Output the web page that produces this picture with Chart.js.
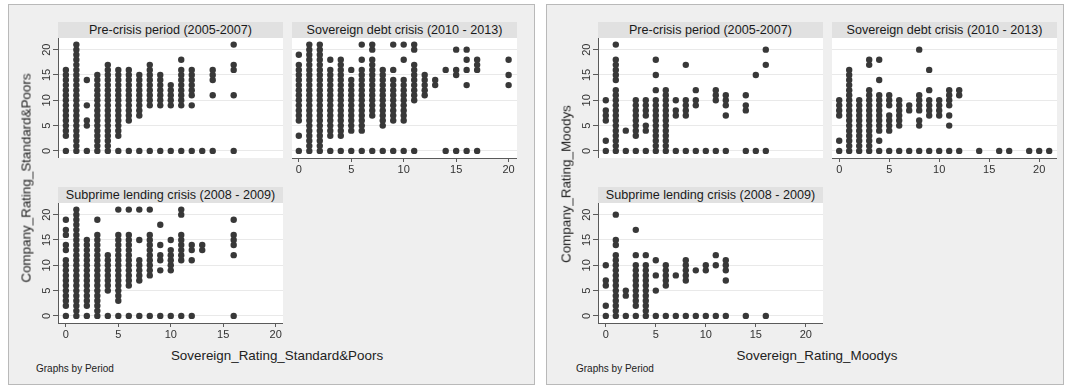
<!DOCTYPE html>
<html>
<head>
<meta charset="utf-8">
<script src="https://cdn.jsdelivr.net/npm/chart.js@4.4.1/dist/chart.umd.min.js"></script>
<style>
body { margin: 0; width: 1066px; height: 388px; background: #fff; position: relative; overflow: hidden;
       font-family: "Liberation Sans", Arial, sans-serif; }
.panel { position: absolute; top: 4px; height: 381px; background: #efefef; border: 1px solid #b9b9b9; box-sizing: border-box; }
.area { position: absolute; background: #fff; }
.strip { position: absolute; height: 16px; line-height: 16px; background: #e1e1e1; color: #1a1a1a;
         font-size: 12.6px; text-align: center; white-space: nowrap; }
canvas { position: absolute; }
.xtitle { position: absolute; font-size: 13.4px; color: #222; white-space: nowrap; transform: translate(-50%, -50%); }
.ytitle { position: absolute; font-size: 13.4px; color: #222; white-space: nowrap; transform: translate(-50%, -50%) rotate(-90deg); }
.note { position: absolute; font-size: 10px; color: #222; white-space: nowrap; }
</style>
</head>
<body>

<div class="panel" style="left:8px;width:527px"></div>
<div class="panel" style="left:546px;width:518px"></div>

<script>
// ticks and panel titles
const xTicks = [0, 5, 10, 15, 20];
const yTicks = [0, 5, 10, 15, 20];
const periods = ['Pre-crisis period (2005-2007)', 'Sovereign debt crisis (2010 - 2013)', 'Subprime lending crisis (2008 - 2009)'];

// [sovereign rating, company ratings seen at that sovereign rating]

// Standard & Poors
const spPre = [
    [0, [0, 3, 4, 5, 6, 7, 8, 9, 10, 11, 12, 13, 14, 15, 16]],
    [1, [0, 1, 2, 3, 4, 5, 6, 7, 8, 9, 10, 11, 12, 13, 14, 15, 16, 17, 18, 19, 20, 21]],
    [2, [0, 5, 6, 9, 14]],
    [3, [0, 1, 2, 3, 4, 5, 6, 7, 8, 9, 10, 11, 12, 13, 14, 15]],
    [4, [0, 1, 2, 3, 4, 5, 6, 7, 8, 9, 10, 11, 12, 13, 14, 15, 16, 17]],
    [5, [0, 3, 4, 5, 6, 7, 8, 9, 10, 11, 12, 13, 14, 15, 16]],
    [6, [0, 6, 7, 8, 9, 10, 11, 12, 13, 14, 15, 16]],
    [7, [0, 7, 8, 9, 10, 11, 12, 13, 14, 15]],
    [8, [0, 9, 10, 11, 12, 13, 14, 15, 16, 17]],
    [9, [0, 9, 10, 11, 12, 13, 14, 15]],
    [10, [0, 9, 10, 11, 12, 13]],
    [11, [0, 9, 10, 11, 12, 13, 14, 15, 16, 18]],
    [12, [0, 9, 11, 12, 13, 14, 15, 16]],
    [13, [0]],
    [14, [0, 11, 14, 15, 16]],
    [16, [0, 11, 16, 17, 21]]
];

const spDebt = [
    [0, [0, 3, 6, 7, 8, 9, 10, 11, 12, 13, 14, 15, 16, 17, 19]],
    [1, [0, 1, 2, 3, 4, 5, 6, 7, 8, 9, 10, 11, 12, 13, 14, 15, 16, 17, 18, 19, 20, 21]],
    [2, [0, 1, 2, 3, 4, 5, 6, 7, 8, 9, 10, 11, 12, 13, 14, 15, 16, 17, 18, 19, 20, 21]],
    [3, [0, 3, 4, 5, 6, 7, 8, 9, 10, 11, 12, 13, 14, 15, 16, 18]],
    [4, [0, 3, 4, 5, 6, 7, 8, 9, 10, 11, 12, 13, 14, 15, 16, 17, 18]],
    [5, [0, 4, 5, 6, 7, 8, 9, 10, 11, 12, 13, 14, 16]],
    [6, [0, 4, 5, 6, 7, 8, 9, 10, 11, 12, 13, 14, 15, 16, 18, 21]],
    [7, [0, 7, 8, 9, 10, 11, 12, 13, 14, 15, 16, 17, 18, 20, 21]],
    [8, [0, 5, 6, 7, 8, 9, 10, 11, 12, 13, 14, 15, 16]],
    [9, [0, 6, 7, 8, 9, 10, 11, 12, 13, 14, 16, 21]],
    [10, [0, 6, 7, 8, 9, 10, 11, 12, 13, 14, 18, 21]],
    [11, [0, 10, 11, 12, 13, 14, 15, 16, 17, 20, 21]],
    [12, [11, 12, 13, 14, 15]],
    [13, [13, 14]],
    [14, [0, 16]],
    [15, [0, 15, 16, 20]],
    [16, [0, 13, 16, 18, 20]],
    [17, [0, 16, 17, 18]],
    [20, [13, 15, 18]]
];

const spSub = [
    [0, [0, 2, 3, 4, 5, 6, 7, 8, 9, 10, 11, 13, 14, 16, 17, 19]],
    [1, [0, 1, 2, 3, 4, 5, 6, 7, 8, 9, 10, 11, 12, 13, 14, 15, 16, 17, 18, 19, 20, 21]],
    [2, [0, 2, 3, 4, 5, 6, 7, 8, 9, 10, 11, 12, 13, 14, 15]],
    [3, [0, 1, 2, 3, 4, 5, 6, 7, 8, 9, 10, 11, 12, 13, 14, 15, 16, 19]],
    [4, [0, 5, 6, 7, 8, 9, 10, 11, 12]],
    [5, [0, 3, 4, 5, 6, 7, 8, 9, 10, 11, 12, 13, 14, 15, 16, 21]],
    [6, [0, 6, 7, 8, 9, 10, 11, 12, 13, 14, 15, 16, 21]],
    [7, [0, 7, 8, 9, 10, 11, 15, 21]],
    [8, [0, 8, 9, 10, 11, 12, 13, 14, 15, 16, 21]],
    [9, [0, 9, 11, 12, 14, 18]],
    [10, [0, 9, 10, 11, 12, 13, 15]],
    [11, [0, 11, 12, 13, 14, 15, 16, 20, 21]],
    [12, [0, 11, 13, 14]],
    [13, [13, 14]],
    [16, [0, 12, 14, 15, 16, 19]]
];

// Moodys
const moPre = [
    [0, [0, 2, 6, 7, 8, 10]],
    [1, [0, 1, 2, 3, 4, 5, 6, 7, 8, 9, 10, 11, 12, 14, 15, 16, 17, 18, 21]],
    [2, [0, 4]],
    [3, [0, 3, 4, 5, 6, 7, 8, 9, 10]],
    [4, [0, 4, 5, 7, 8, 9, 10]],
    [5, [0, 1, 2, 3, 4, 5, 6, 7, 8, 9, 10, 12, 15, 18]],
    [6, [0, 1, 2, 3, 4, 5, 6, 7, 8, 9, 10, 11, 12]],
    [7, [0, 7, 8, 10]],
    [8, [0, 7, 8, 9, 10, 17]],
    [9, [0, 9, 10, 12]],
    [10, [0]],
    [11, [0, 10, 11, 12]],
    [12, [0, 7, 9, 10, 11]],
    [14, [0, 8, 9, 11]],
    [15, [0, 15]],
    [16, [0, 17, 20]]
];

const moDebt = [
    [0, [0, 2, 7, 8, 9, 10]],
    [1, [0, 1, 2, 3, 4, 5, 6, 7, 8, 9, 10, 11, 12, 13, 14, 15, 16]],
    [2, [0, 1, 2, 3, 4, 5, 6, 7, 8, 9, 10]],
    [3, [0, 1, 2, 3, 4, 5, 6, 7, 8, 9, 10, 11, 12, 17, 18]],
    [4, [0, 2, 4, 5, 6, 7, 8, 9, 10, 11, 14, 18]],
    [5, [0, 4, 5, 6, 7, 9, 10, 11]],
    [6, [0, 5, 6, 7, 8, 9, 10]],
    [7, [0, 8, 9]],
    [8, [0, 5, 6, 8, 9, 10, 11, 20]],
    [9, [0, 7, 8, 9, 10, 12, 16]],
    [10, [0, 7, 8, 9, 10]],
    [11, [0, 5, 7, 9, 10, 11, 12]],
    [12, [0, 11, 12]],
    [14, [0]],
    [16, [0]],
    [17, [0]],
    [19, [0]],
    [20, [0]],
    [21, [0]]
];

const moSub = [
    [0, [0, 2, 6, 7, 10]],
    [1, [0, 1, 2, 3, 4, 5, 6, 7, 8, 9, 10, 11, 12, 14, 15, 20]],
    [2, [0, 4, 5]],
    [3, [0, 2, 3, 4, 5, 6, 7, 8, 9, 10, 12, 17]],
    [4, [0, 1, 2, 3, 4, 5, 6, 7, 8, 9, 10, 12]],
    [5, [0, 5, 8, 11]],
    [6, [0, 6, 7, 8, 9, 10]],
    [7, [0, 8]],
    [8, [0, 7, 8, 9, 10, 11]],
    [9, [0, 9]],
    [10, [0, 9, 10]],
    [11, [0, 10, 12]],
    [12, [0, 7, 9, 10, 11]],
    [14, [0]],
    [16, [0]]
];

const FONT = '"Liberation Sans", Arial, sans-serif';
const DOT = '#383838';
const AXIS = '#5a5a5a';
const GRID = '#e9e9e9';
const TICK_TEXT = '#333';

const PW = 225, PH = 120;      // plot region size
const AXIS_W = 30, AXIS_H = 22; // room for y / x axis
const Y_MIN = -1.4, Y_MAX = 22.3;

// where each small graph sits
const plots = [
    { cols: spPre,  title: periods[0], L: 58,  T: 38,  xAxis: false, yAxis: true,  xMin: -0.75, xMax: 20.7 },
    { cols: spDebt, title: periods[1], L: 292, T: 38,  xAxis: true,  yAxis: false, xMin: -0.65, xMax: 20.8 },
    { cols: spSub,  title: periods[2], L: 58,  T: 203, xAxis: true,  yAxis: true,  xMin: -0.75, xMax: 20.7 },
    { cols: moPre,  title: periods[0], L: 598, T: 38,  xAxis: false, yAxis: true,  xMin: -0.78, xMax: 21.72 },
    { cols: moDebt, title: periods[1], L: 832, T: 38,  xAxis: true,  yAxis: false, xMin: -0.72, xMax: 21.78 },
    { cols: moSub,  title: periods[2], L: 598, T: 203, xAxis: true,  yAxis: true,  xMin: -0.78, xMax: 21.72 }
];

function toPoints(cols) {
    const pts = [];
    cols.forEach(([x, ys]) => ys.forEach(y => pts.push({ x: x, y: y })));
    return pts;
}

// stata style rotated y labels
const yLabels = {
    id: 'yLabels',
    afterDraw(chart, args, opts) {
        if (!opts.show) return;
        const s = chart.scales.y;
        const c = chart.ctx;
        c.save();
        c.font = '11px ' + FONT;
        c.fillStyle = TICK_TEXT;
        c.textAlign = 'center';
        c.textBaseline = 'middle';
        yTicks.forEach(v => {
            c.save();
            c.translate(s.right - 11, s.getPixelForValue(v));
            c.rotate(-Math.PI / 2);
            c.fillText(String(v), 0, 0);
            c.restore();
        });
        c.restore();
    }
};

function addDiv(cls, text, style) {
    const d = document.createElement('div');
    d.className = cls;
    d.textContent = text;
    Object.assign(d.style, style);
    document.body.appendChild(d);
    return d;
}

plots.forEach(p => {

    addDiv('area', '', { left: p.L + 'px', top: p.T + 'px', width: PW + 'px', height: PH + 'px' });
    addDiv('strip', p.title, { left: p.L + 'px', top: (p.T - 16) + 'px', width: PW + 'px' });

    const cv = document.createElement('canvas');
    const w = PW + AXIS_W;
    const h = PH + (p.xAxis ? AXIS_H : 0);
    cv.width = w; cv.height = h;
    cv.style.width = w + 'px'; cv.style.height = h + 'px';
    cv.style.left = (p.L - AXIS_W) + 'px';
    cv.style.top = p.T + 'px';
    document.body.appendChild(cv);

    new Chart(cv, {
        type: 'scatter',
        data: {
            datasets: [{
                data: toPoints(p.cols),
                backgroundColor: DOT,
                borderWidth: 0,
                pointRadius: 3.2,
                pointHoverRadius: 3.2
            }]
        },
        options: {
            responsive: false,
            animation: false,
            events: [],
            layout: { padding: 0, autoPadding: false },
            plugins: {
                legend: { display: false },
                tooltip: { enabled: false },
                yLabels: { show: p.yAxis }
            },
            scales: {
                x: {
                    type: 'linear',
                    display: p.xAxis,
                    min: p.xMin,
                    max: p.xMax,
                    afterBuildTicks: s => { s.ticks = xTicks.map(v => ({ value: v })); },
                    afterFit: s => {
                        s.height = p.xAxis ? AXIS_H : 0;
                        s.paddingLeft = 0; s.paddingRight = 0;
                    },
                    grid: { drawOnChartArea: false, tickLength: 4, tickColor: AXIS },
                    border: { color: AXIS },
                    ticks: { font: { size: 11, family: FONT }, color: TICK_TEXT, padding: 1, maxRotation: 0 }
                },
                y: {
                    type: 'linear',
                    min: Y_MIN,
                    max: Y_MAX,
                    afterBuildTicks: s => { s.ticks = yTicks.map(v => ({ value: v })); },
                    afterFit: s => {
                        s.width = AXIS_W;
                        s.paddingTop = 0; s.paddingBottom = 0;
                    },
                    grid: { color: GRID, drawTicks: p.yAxis, tickLength: 5, tickColor: AXIS },
                    border: { display: p.yAxis, color: AXIS },
                    ticks: { display: false }
                }
            }
        },
        plugins: [yLabels]
    });
});

// axis titles and notes
addDiv('xtitle', 'Sovereign_Rating_Standard&Poors', { left: '277px', top: '355px' });
addDiv('xtitle', 'Sovereign_Rating_Moodys', { left: '817px', top: '355px' });
addDiv('ytitle', 'Company_Rating_Standard&Poors', { left: '26px', top: '178px' });
addDiv('ytitle', 'Company_Rating_Moodys', { left: '566px', top: '184px' });
addDiv('note', 'Graphs by Period', { left: '36px', top: '363px' });
addDiv('note', 'Graphs by Period', { left: '576px', top: '363px' });
</script>
</body>
</html>
